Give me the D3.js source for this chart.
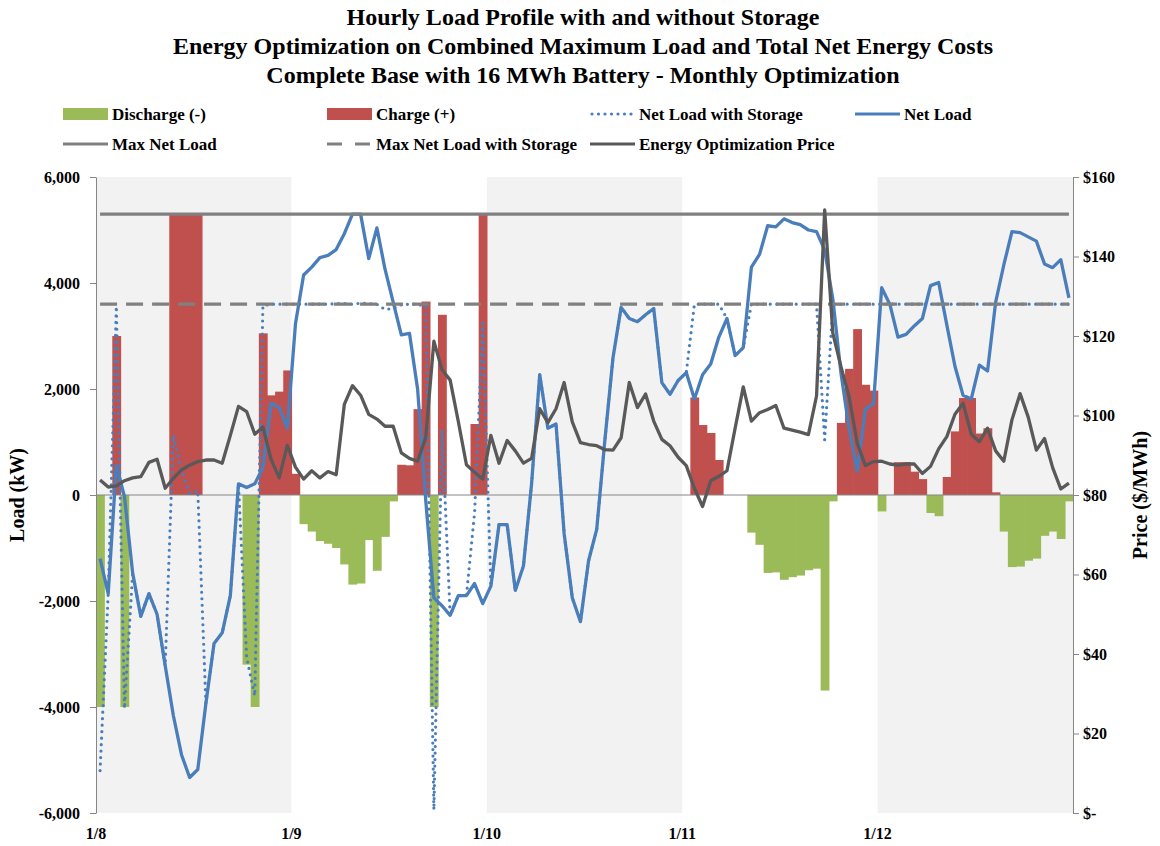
<!DOCTYPE html>
<html>
<head>
<meta charset="utf-8">
<script src="https://cdnjs.cloudflare.com/ajax/libs/d3/7.8.5/d3.min.js"></script>
<style>
  body { margin: 0; background: #fff; }
  svg text { font-family: "Liberation Serif", "Times New Roman", serif; font-weight: bold; fill: #000; }
</style>
</head>
<body>
<svg id="chart"></svg>
<script>
// x axis: five days of hourly values, 24 per day
var dayLabels = ["1/8", "1/9", "1/10", "1/11", "1/12"];

// Net Load (kW)
var netLoad = [
  -1200, -1860, 560, -30, -1470, -2290, -1860, -2250, -3220, -4160, -4900, -5330, -5180, -3930, -2800, -2600, -1900, 210, 140, 210, 520, 1730, 1650, 1260,
  3230, 4150, 4300, 4480, 4520, 4630, 4930, 5300, 5300, 4460, 5040, 4260, 3640, 3020, 3050, 2000, -100, -1940, -2090, -2270, -1900, -1900, -1670, -2050,
  -1720, -560, -560, -1800, -1340, 210, 2270, 1260, 1340, -730, -1940, -2390, -1240, -650, 1030, 2590, 3540, 3330, 3270, 3400, 3520, 2120, 1900, 2160,
  2310, 1810, 2270, 2470, 2980, 3330, 2630, 2780, 4300, 4540, 5080, 5060, 5210, 5140, 5100, 5000, 4970, 4620, 3700, 2300, 1250, 450, 1620, 1720,
  3910, 3600, 2980, 3030, 3190, 3330, 3950, 4010, 3210, 2430, 1880, 1810, 2450, 2340, 3640, 4340, 4970, 4950, 4870, 4790, 4360, 4290, 4440, 3720
];

// Net Load with Storage (kW)
var netLoadStorage = [
  -5200, -1860, 3560, -4030, -1470, -2290, -1860, -2250, -3220, 1130, 470, 30, 80, -3930, -2800, -2600, -1900, 210, -3060, -3790, 3570, 3600, 3600, 3600,
  3600, 3600, 3600, 3600, 3600, 3610, 3610, 3600, 3620, 3610, 3600, 3500, 3520, 3590, 3600, 3600, 3550, -5940, 1230, -2270, -1900, -1900, -330, 3250,
  -1720, -560, -560, -1800, -1340, 210, 2270, 1260, 1340, -730, -1940, -2390, -1240, -650, 1030, 2590, 3540, 3330, 3270, 3400, 3520, 2120, 1900, 2160,
  2310, 3600, 3600, 3600, 3600, 3330, 2630, 2780, 3600, 3600, 3600, 3600, 3600, 3600, 3600, 3600, 3600, 1040, 3580, 3600, 3600, 3600, 3600, 3600,
  3600, 3600, 3600, 3600, 3600, 3600, 3600, 3600, 3600, 3600, 3600, 3600, 3600, 3600, 3600, 3600, 3600, 3600, 3600, 3600, 3600, 3600, 3600, 3600
];

// Charge (+) kW
var charge = [
  0, 0, 3000, 0, 0, 0, 0, 0, 0, 5300, 5300, 5300, 5300, 0, 0, 0, 0, 0, 0, 0, 3050, 1880, 1950, 2350,
  400, 0, 0, 0, 0, 0, 0, 0, 0, 0, 0, 0, 0, 570, 560, 1620, 3650, 0, 3400, 0, 0, 0, 1340, 5300,
  0, 0, 0, 0, 0, 0, 0, 0, 0, 0, 0, 0, 0, 0, 0, 0, 0, 0, 0, 0, 0, 0, 0, 0,
  0, 1840, 1320, 1170, 660, 0, 0, 0, 0, 0, 0, 0, 0, 0, 0, 0, 0, 0, 0, 1360, 2380, 3130, 2080, 1970,
  0, 0, 620, 620, 440, 300, 0, 0, 340, 1200, 1830, 1830, 1160, 1260, 50, 0, 0, 0, 0, 0, 0, 0, 0, 0
];

// Discharge (-) kW
var discharge = [
  -4000, 0, 0, -4000, 0, 0, 0, 0, 0, 0, 0, 0, 0, 0, 0, 0, 0, 0, -3200, -4000, 0, 0, 0, 0,
  0, -550, -690, -870, -920, -1000, -1310, -1690, -1670, -850, -1430, -790, -120, 0, 0, 0, 0, -4000, 0, 0, 0, 0, 0, 0,
  0, 0, 0, 0, 0, 0, 0, 0, 0, 0, 0, 0, 0, 0, 0, 0, 0, 0, 0, 0, 0, 0, 0, 0,
  0, 0, 0, 0, 0, 0, 0, 0, -710, -940, -1470, -1460, -1600, -1550, -1520, -1420, -1390, -3690, -120, 0, 0, 0, 0, 0,
  -310, 0, 0, 0, 0, 0, -340, -400, 0, 0, 0, 0, 0, 0, 0, -690, -1360, -1350, -1240, -1200, -770, -690, -830, -120
];

// Energy Optimization Price ($/MWh)
var price = [
  83.8, 82.0, 82.3, 83.6, 84.3, 84.6, 88.2, 89.0, 81.7, 84.2, 86.3, 87.5, 88.4, 88.8, 88.8, 88.0, 95.0, 102.3, 101.0, 95.3, 97.1, 89.0, 84.3, 92.5,
  87.0, 84.0, 86.1, 84.3, 85.9, 85.1, 102.8, 107.5, 105.1, 100.3, 99.1, 97.3, 97.3, 90.6, 89.2, 88.5, 94.5, 118.7, 111.5, 108.9, 98.5, 87.6, 85.7, 84.0,
  95.0, 88.0, 93.7, 91.1, 88.0, 89.2, 101.7, 98.2, 101.7, 108.3, 98.4, 93.2, 92.7, 92.4, 91.4, 91.3, 94.4, 108.3, 102.0, 105.4, 98.6, 94.0, 92.4, 89.5,
  87.4, 81.7, 77.1, 83.6, 84.7, 86.1, 96.8, 107.2, 98.6, 100.7, 101.5, 102.5, 96.8, 96.3, 95.8, 95.2, 104.9, 151.7, 120.7, 112.3, 104.7, 93.0, 87.4, 88.4,
  88.5, 87.8, 87.5, 87.8, 87.8, 85.4, 87.2, 91.6, 94.7, 100.3, 103.1, 95.3, 93.4, 96.8, 91.1, 88.5, 98.9, 105.5, 99.6, 91.3, 94.2, 86.9, 81.5, 83.0
];

var maxNetLoad = 5300;
var maxNetLoadStorage = 3600;

var loadTicks = [-6000, -4000, -2000, 0, 2000, 4000, 6000];
var priceTicks = [0, 20, 40, 60, 80, 100, 120, 140, 160];

var titleLines = [
  "Hourly Load Profile with and without Storage",
  "Energy Optimization on Combined Maximum Load and Total Net Energy Costs",
  "Complete Base with 16 MWh Battery - Monthly Optimization"
];

var w = 1160;
var h = 846;
var plotLeft = 96, plotRight = 1073, plotTop = 177, plotBottom = 813;
var hours = d3.range(netLoad.length);

var svg = d3.select("#chart")
            .attr("width", w)
            .attr("height", h);

var x = d3.scaleBand().domain(hours).range([plotLeft, plotRight]).padding(0);
var xHour = d3.scaleLinear().domain([0, hours.length]).range([plotLeft, plotRight]);
var yLoad = d3.scaleLinear().domain([-6000, 6000]).range([plotBottom, plotTop]);
var yPrice = d3.scaleLinear().domain([0, 160]).range([plotBottom, plotTop]);
var cx = function(i){ return x(i) + x.bandwidth() / 2; };

// shaded alternate days
svg.selectAll("rect.day")
  .data(dayLabels.filter(function(d, i){ return i % 2 === 0; }))
  .enter()
  .append("rect")
    .attr("class", "day")
    .attr("x", function(d){ return xHour(dayLabels.indexOf(d) * 24); })
    .attr("y", plotTop)
    .attr("width", xHour(24) - xHour(0))
    .attr("height", plotBottom - plotTop)
    .style("fill", "#f2f2f2");

// bars (a hair wider than the band so neighbours touch)
function drawBars(values, color){
  svg.append("g").selectAll("rect")
    .data(hours.filter(function(i){ return values[i] !== 0; }))
    .enter()
    .append("rect")
      .attr("x", function(i){ return x(i); })
      .attr("y", function(i){ return yLoad(Math.max(0, values[i])); })
      .attr("width", x.bandwidth() + 0.7)
      .attr("height", function(i){ return Math.abs(yLoad(values[i]) - yLoad(0)); })
      .style("fill", color);
}
drawBars(discharge, "#9bbb59");
drawBars(charge, "#c0504d");

// zero line
svg.append("line")
  .attr("x1", plotLeft).attr("x2", plotRight)
  .attr("y1", yLoad(0)).attr("y2", yLoad(0))
  .style("stroke", "#868686").style("stroke-width", 1);

function drawLine(values, yScale, color, width, dash){
  var line = d3.line()
               .x(function(d, i){ return cx(i); })
               .y(function(d){ return yScale(d); });
  svg.append("path")
    .datum(values)
    .attr("d", line)
    .style("fill", "none")
    .style("stroke", color)
    .style("stroke-width", width)
    .style("stroke-linejoin", "round")
    .style("stroke-linecap", dash === "dot" ? "round" : "butt")
    .style("stroke-dasharray", dash === "dot" ? "0 6.5" : dash);
}

drawLine(netLoadStorage, yLoad, "#4a7ebb", 3.2, "dot");
drawLine(netLoad, yLoad, "#4a7ebb", 3.3, null);
drawLine(hours.map(function(){ return maxNetLoad; }), yLoad, "#808080", 3.3, null);
drawLine(hours.map(function(){ return maxNetLoadStorage; }), yLoad, "#808080", 3.3, "17,9");
drawLine(price, yPrice, "#595959", 3.3, null);

// axes
var leftAxis = svg.append("g")
  .attr("transform", "translate(" + plotLeft + ",0)")
  .call(d3.axisLeft(yLoad)
          .tickValues(loadTicks)
          .tickSize(6)
          .tickSizeOuter(0)
          .tickPadding(10)
          .tickFormat(function(d){ return (d < 0 ? "-" : "") + d3.format(",")(Math.abs(d)); }));

var rightAxis = svg.append("g")
  .attr("transform", "translate(" + plotRight + ",0)")
  .call(d3.axisRight(yPrice)
          .tickValues(priceTicks)
          .tickSize(6)
          .tickSizeOuter(0)
          .tickPadding(4)
          .tickFormat(function(d){ return d === 0 ? "$-" : "$" + d; }));

[leftAxis, rightAxis].forEach(function(g){
  g.selectAll("path,line").style("stroke", "#868686");
  g.selectAll("text").style("font-size", "16px").style("font-family", "Liberation Serif").style("font-weight", "bold");
});

svg.selectAll("text.xlab")
  .data(dayLabels)
  .enter()
  .append("text")
    .attr("class", "xlab")
    .attr("x", function(d, i){ return xHour(i * 24); })
    .attr("y", 839)
    .attr("text-anchor", "middle")
    .style("font-size", "16px")
    .text(function(d){ return d; });

svg.append("text")
  .attr("transform", "translate(24," + yLoad(0) + ") rotate(-90)")
  .attr("text-anchor", "middle")
  .style("font-size", "20px")
  .text("Load (kW)");

svg.append("text")
  .attr("transform", "translate(1147," + yLoad(0) + ") rotate(-90)")
  .attr("text-anchor", "middle")
  .style("font-size", "20px")
  .text("Price ($/MWh)");

// title
svg.selectAll("text.title")
  .data(titleLines)
  .enter()
  .append("text")
    .attr("class", "title")
    .attr("x", 583)
    .attr("y", function(d, i){ return 25 + i * 29; })
    .attr("text-anchor", "middle")
    .style("font-size", "24px")
    .text(function(d){ return d; });

// legend
var legend = [
  {label: "Discharge (-)", type: "rect", color: "#9bbb59", col: 0, row: 0},
  {label: "Charge (+)", type: "rect", color: "#c0504d", col: 1, row: 0},
  {label: "Net Load with Storage", type: "dot", color: "#4a7ebb", col: 2, row: 0},
  {label: "Net Load", type: "line", color: "#4a7ebb", col: 3, row: 0},
  {label: "Max Net Load", type: "line", color: "#808080", col: 0, row: 1},
  {label: "Max Net Load with Storage", type: "dash", color: "#808080", col: 1, row: 1},
  {label: "Energy Optimization Price", type: "line", color: "#595959", col: 2, row: 1}
];
var legendCols = [63, 327, 590, 855];

var items = svg.selectAll("g.legend")
  .data(legend)
  .enter()
  .append("g")
    .attr("class", "legend")
    .attr("transform", function(d){ return "translate(" + legendCols[d.col] + "," + (114 + d.row * 30) + ")"; });

items.filter(function(d){ return d.type === "rect"; })
  .append("rect")
    .attr("x", 0).attr("y", -6)
    .attr("width", 45).attr("height", 12)
    .style("fill", function(d){ return d.color; });

items.filter(function(d){ return d.type !== "rect"; })
  .append("line")
    .attr("x1", function(d){ return d.type === "dot" ? 2 : 0; })
    .attr("x2", 45)
    .attr("y1", 0).attr("y2", 0)
    .style("stroke", function(d){ return d.color; })
    .style("stroke-width", 3.2)
    .style("stroke-linecap", function(d){ return d.type === "dot" ? "round" : "butt"; })
    .style("stroke-dasharray", function(d){
      return d.type === "dot" ? "0 6.5" : d.type === "dash" ? "15,13" : null;
    });

items.append("text")
  .attr("x", 49)
  .attr("y", 6)
  .style("font-size", "17px")
  .text(function(d){ return d.label; });
</script>
</body>
</html>
